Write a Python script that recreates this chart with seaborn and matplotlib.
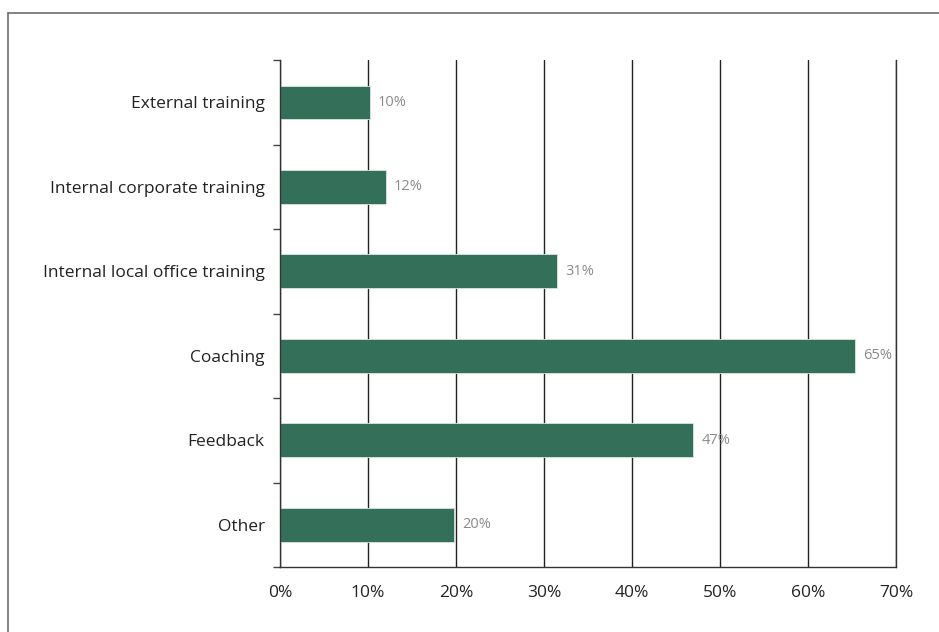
import matplotlib
matplotlib.use("Agg")
import matplotlib.pyplot as plt
from matplotlib.lines import Line2D
from matplotlib.ticker import FuncFormatter
import seaborn as sns
import pandas as pd

categories = ["External training", "Internal corporate training",
              "Internal local office training", "Coaching", "Feedback", "Other"]
shares = [10.2, 12.0, 31.4, 65.3, 46.9, 19.8]
x_ticks = [0, 10, 20, 30, 40, 50, 60, 70]

df = pd.DataFrame({"category": categories, "share": shares})

sns.set_theme(style="white")
plt.rcParams["font.family"] = ["Open Sans", "DejaVu Sans"]

fig = plt.figure(figsize=(9.39, 6.32), dpi=100)
ax = fig.add_axes([0.2982, 0.1028, 0.6565, 0.802])

sns.barplot(data=df, y="category", x="share", orient="h", color="#346f5a",
            width=0.4, saturation=1, edgecolor="#d6e6de", linewidth=0.6, ax=ax)

for c in ax.containers:
    ax.bar_label(c, fmt="%.0f%%", padding=6, color="#8a8a8a", fontsize=10.5)

ax.set_xlim(0, 70)
ax.set_ylim(len(categories) - 0.5, -0.5)
ax.set_xticks(x_ticks)
ax.xaxis.set_major_formatter(FuncFormatter(lambda v, p: f"{v:.0f}%"))
ax.set_xticks([x_ticks[0], x_ticks[-1]], minor=True)
ax.set_xlabel("")
ax.set_ylabel("")

# vertical gridlines
ax.grid(axis="x", which="major", color="#222222", linewidth=1.0)
ax.set_axisbelow(True)

# y ticks between categories, labels centred on bars
ax.set_yticks([i for i in range(len(categories))])
ax.set_yticklabels(categories)
ax.set_yticks([i - 0.5 for i in range(len(categories) + 1)], minor=True)
ax.tick_params(axis="y", which="major", length=0, pad=11, labelsize=12.5, labelcolor="#222222")
ax.tick_params(axis="y", which="minor", length=5, width=1, color="#444444", left=True)
ax.tick_params(axis="x", which="major", length=0, pad=13, labelsize=12.5, labelcolor="#222222")
ax.tick_params(axis="x", which="minor", length=6, width=1, color="#444444", bottom=True)

ax.spines["top"].set_visible(False)
for s in ["left", "bottom", "right"]:
    ax.spines[s].set_color("#333333")
    ax.spines[s].set_linewidth(1.0)

# frame round the figure (top and left edges only visible)
fig.add_artist(Line2D([8 / 939, 1.0], [1 - 13 / 632, 1 - 13 / 632],
                      color="#6e6e6e", linewidth=1.2, transform=fig.transFigure))
fig.add_artist(Line2D([8 / 939, 8 / 939], [0, 1 - 13 / 632],
                      color="#6e6e6e", linewidth=1.2, transform=fig.transFigure))

fig.savefig("out.png", dpi=100)
